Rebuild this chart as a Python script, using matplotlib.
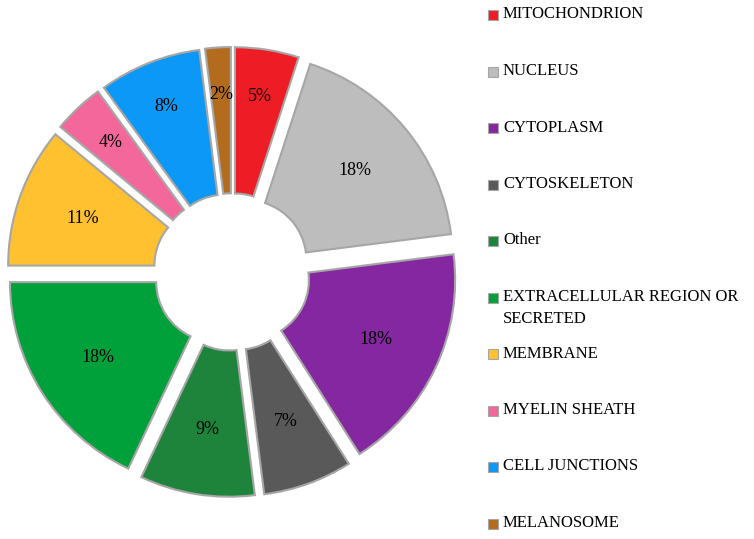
import numpy as np
import matplotlib.pyplot as plt
from matplotlib.patches import Rectangle

categories = ['MITOCHONDRION', 'NUCLEUS', 'CYTOPLASM', 'CYTOSKELETON', 'Other',
              'EXTRACELLULAR REGION OR\nSECRETED', 'MEMBRANE', 'MYELIN SHEATH',
              'CELL JUNCTIONS', 'MELANOSOME']
values = [5, 18, 18, 7, 9, 18, 11, 4, 8, 2]
colors = ['#EE1C25', '#BDBDBD', '#8427A0', '#595959', '#1E843C',
          '#00A03A', '#FFC12F', '#F4679A', '#0C98F6', '#B36B1E']

plt.rcParams['font.family'] = ['Liberation Serif', 'DejaVu Serif']

W, H = 754, 539
fig = plt.figure(figsize=(W / 100, H / 100), dpi=100)

# pie axes centred at about (232, 272) px, 1 unit = 206 px
lim = 1.13
span = 2 * lim * 206
cx, cy = 232, 272
ax = fig.add_axes([(cx - span / 2) / W, 1 - (cy + span / 2) / H, span / W, span / H])

explode = 0.092
wedges, texts, autotexts = ax.pie(
    values, colors=colors, startangle=90, counterclock=False,
    explode=[explode] * len(values), autopct='%1.0f%%', pctdistance=0.68,
    wedgeprops=dict(width=0.71, edgecolor='#A6A6A6', linewidth=1.5),
    textprops=dict(fontsize=13, color='black'))

# narrow wedges in the upper half carry their label further out
for w, t, v in zip(wedges, autotexts, values):
    ang = np.deg2rad((w.theta1 + w.theta2) / 2)
    if v < 9 and np.sin(ang) > 0:
        r = explode + 0.77
        t.set_position((r * np.cos(ang), r * np.sin(ang)))

ax.set_xlim(-lim, lim)
ax.set_ylim(-lim, lim)
ax.set_aspect('equal')
ax.axis('off')

# legend drawn by hand so the two-line entry lines up like the original
y0, step = 15, 56.5
for i, (lab, col) in enumerate(zip(categories, colors)):
    y = y0 + i * step
    fig.patches.append(Rectangle((488 / W, 1 - (y + 5) / H), 10 / W, 10 / H,
                                 transform=fig.transFigure, facecolor=col,
                                 edgecolor='#A6A6A6', linewidth=0.8))
    fig.text(503 / W, 1 - (y - 8.5) / H, lab, fontsize=12, va='top', ha='left',
             linespacing=1.5)

fig.savefig('out.png', dpi=100)
